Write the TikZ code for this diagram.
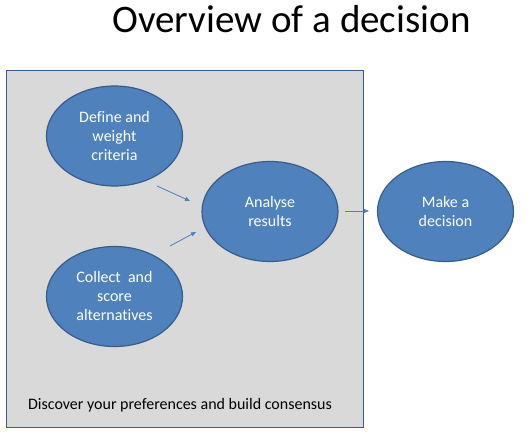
\documentclass[tikz,border=0pt]{standalone}
\usepackage{fontspec}
\setmainfont{Carlito}[Ligatures=CommonOff]
\usetikzlibrary{shapes.geometric,arrows.meta}
\definecolor{boxgray}{HTML}{D9D9D9}
\definecolor{stageblue}{HTML}{4F81BD}
\definecolor{edgeblue}{HTML}{385D8A}

\tikzset{
    stage/.style={ellipse, draw=edgeblue, line width=1.2pt, fill=stageblue, text=white,
        minimum width=136pt, minimum height=100pt, inner sep=0pt, align=center,
        font=\fontsize{16}{19}\selectfont},
    flow/.style={draw=stageblue, line width=0.8pt, -{Triangle[length=5pt,width=4pt]}}
}

\begin{document}
\begin{tikzpicture}[x=1pt,y=-1pt]
    \useasboundingbox (0,0) rectangle (530,436);
    \node[anchor=base, font=\fontsize{39}{47}\selectfont] (title) at (291.5,33) {Overview of a decision};
    \node[draw=edgeblue, fill=boxgray, line width=1.2pt, minimum width=357pt, minimum height=357pt] (board) at (185,249) {};
    \node[anchor=base, font=\fontsize{16}{19}\selectfont] (consensus) at (180,409) {Discover your preferences and build consensus};
    \node[stage] (criteria) at (114.5,136) {Define and\\weight\\criteria};
    \node[stage] (alternatives) at (114.5,296.5) {Collect\ \ and\\score\\alternatives};
    \node[stage] (analyse) at (270,211.5) {Analyse\\results};
    \node[stage] (decision) at (445.5,211.5) {Make a\\decision};
    % free ends of the arrows
    \coordinate (a1) at (157,186);
    \coordinate (b1) at (190,201);
    \coordinate (a2) at (170,246);
    \coordinate (b2) at (196,232);
    \coordinate (a3) at (345,211);
    \coordinate (b3) at (369,211);
    \draw[flow] (a1) -- (b1);
    \draw[flow] (a2) -- (b2);
    \draw[flow] (a3) -- (b3);
\end{tikzpicture}
\end{document}
